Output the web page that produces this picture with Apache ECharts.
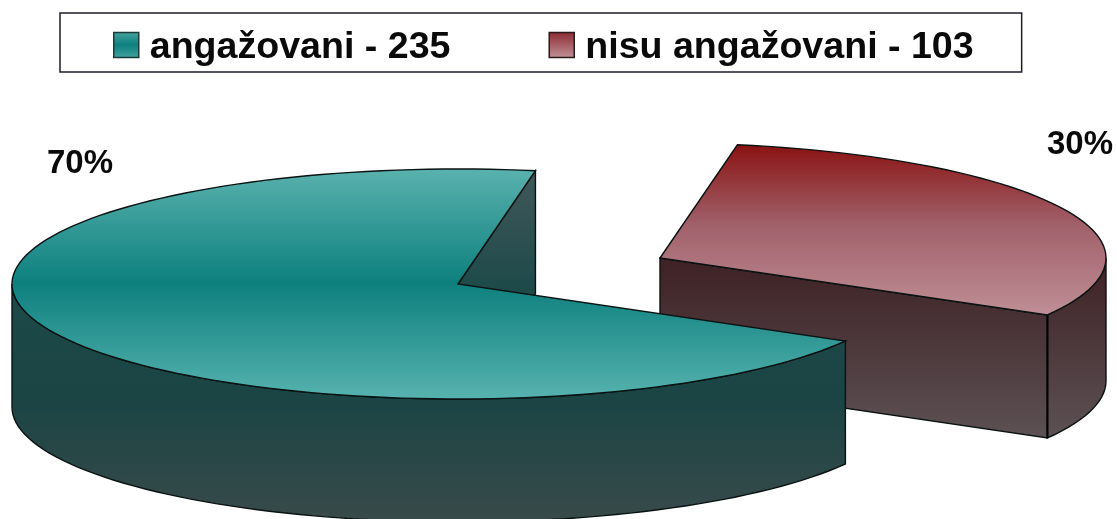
<!DOCTYPE html>
<html>
<head>
<meta charset="utf-8">
<style>html,body{margin:0;padding:0;background:#fff}#c{width:1117px;height:519px}</style>
<script src="https://cdn.jsdelivr.net/npm/echarts@6/dist/echarts.min.js"></script>
</head>
<body>
<div id="c"></div>
<script>
const categories = ['angažovani', 'nisu angažovani'];
const values = [235, 103];
const total = values[0] + values[1];

const RX = 446, RY = 115, DEPTH = 123, START_DEG = 80;
const centers = [[458, 284], [660, 258]];
const labelPos = [[47, 164], [1047, 145]];
const LINE = '#0a1212';

function grad(y0, y1, stops) {
  return new echarts.graphic.LinearGradient(0, y0, 0, y1,
    stops.map(s => ({ offset: s[0], color: s[1] })), true);
}
function localGrad(stops) {
  return new echarts.graphic.LinearGradient(0, 0, 0, 1,
    stops.map(s => ({ offset: s[0], color: s[1] })));
}
const fills = {
  topA: grad(168, 398, [[0, '#5ab2ae'], [0.5, '#0d807e'], [1, '#56b2ae']]),
  wallA: grad(168, 518, [[0, '#42585a'], [0.34, '#1e4a4a'], [0.66, '#1b4444'], [1, '#384a4a']]),
  topB: grad(144, 322, [[0, '#8a1212'], [0.45, '#a0606a'], [1, '#c29299']]),
  wallB: grad(258, 438, [[0, '#3e2124'], [1, '#5c5154']])
};

function pt(c, deg, dy) {
  const t = deg * Math.PI / 180;
  return [c[0] + RX * Math.cos(t), c[1] - RY * Math.sin(t) + (dy || 0)];
}
function arc(c, a0, a1, dy) {
  const out = [], n = Math.max(2, Math.ceil(Math.abs(a1 - a0) / 2));
  for (let i = 0; i <= n; i++) out.push(pt(c, a0 + (a1 - a0) * i / n, dy));
  return out;
}
function poly(points, fill) {
  return { type: 'polygon', shape: { points }, style: { fill, stroke: LINE, lineWidth: 1.4 }, silent: true };
}
function pctText(i, v) {
  return { type: 'text', silent: true, style: {
    text: Math.round(v / total * 100) + '%', x: labelPos[i][0], y: labelPos[i][1],
    font: 'bold 33px "Liberation Sans", Arial, sans-serif', fill: '#0a0a0a', verticalAlign: 'middle', align: 'left' } };
}

function renderA(params, api) {
  const v = api.value(0), c = centers[0];
  const end = START_DEG + v / total * 360;
  const s = pt(c, START_DEG);
  const inner = [c, s, [s[0], s[1] + DEPTH], [c[0], c[1] + DEPTH]];
  const outer = arc(c, 180, end).concat(arc(c, end, 180, DEPTH));
  const top = [c].concat(arc(c, START_DEG, end));
  return { type: 'group', children: [
    poly(inner, fills.wallA), poly(outer, fills.wallA), poly(top, fills.topA), pctText(0, v)
  ] };
}
function renderB(params, api) {
  const v = api.value(0), c = centers[1];
  const end = START_DEG - v / total * 360;
  const e = pt(c, end);
  const front = [c, e, [e[0], e[1] + DEPTH], [c[0], c[1] + DEPTH]];
  const outer = arc(c, end, 0).concat(arc(c, 0, end, DEPTH));
  const top = [c].concat(arc(c, START_DEG, end));
  return { type: 'group', children: [
    poly(outer, fills.wallB), poly(front, fills.wallB),
    { type: 'line', silent: true, shape: { x1: e[0], y1: e[1], x2: e[0], y2: e[1] + DEPTH }, style: { stroke: '#000', lineWidth: 2 } },
    poly(top, fills.topB), pctText(1, v)
  ] };
}

const legendNames = categories.map((n, i) => n + ' - ' + values[i]);
const chart = echarts.init(document.getElementById('c'), null, { renderer: 'canvas' });
chart.setOption({
  animation: false,
  backgroundColor: '#fff',
  legend: {
    left: 60, top: 13,
    orient: 'horizontal',
    padding: [16, 48, 5, 53],
    borderColor: '#1c1c28', borderWidth: 1.5,
    itemWidth: 25, itemHeight: 25, itemGap: 98,
    formatter: n => '{t|' + n + '}',
    textStyle: {
      rich: { t: { fontFamily: '"Liberation Sans", Arial, sans-serif', fontWeight: 'bold', fontSize: 37.6, color: '#0a0a0a', padding: [6, 0, 0, 6] } }
    },
    selectedMode: false,
    data: [
      { name: legendNames[0], icon: 'rect', itemStyle: { color: localGrad([[0, '#46a4a0'], [0.5, '#0d807e'], [1, '#46a4a0']]), borderColor: '#1a3a3a', borderWidth: 1.5 } },
      { name: legendNames[1], icon: 'rect', itemStyle: { color: localGrad([[0, '#8a2a30'], [1, '#c29299']]), borderColor: '#2a1a1a', borderWidth: 1.5 } }
    ]
  },
  series: [
    { type: 'custom', name: legendNames[1], coordinateSystem: 'none', renderItem: renderB, data: [values[1]], z: 1, itemStyle: { color: '#a0606a' } },
    { type: 'custom', name: legendNames[0], coordinateSystem: 'none', renderItem: renderA, data: [values[0]], z: 2, itemStyle: { color: '#0d807e' } }
  ]
});
</script>
</body>
</html>
